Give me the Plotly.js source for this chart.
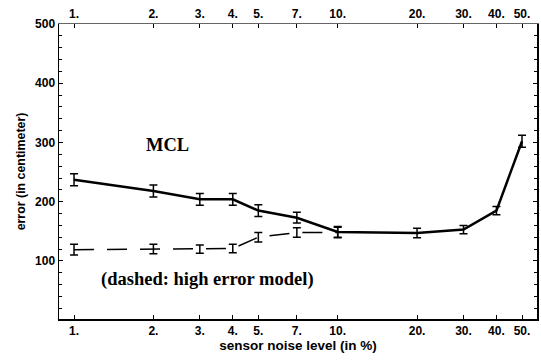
<!DOCTYPE html>
<html>
<head>
<meta charset="utf-8">
<script src="https://cdn.plot.ly/plotly-3.0.1.min.js"></script>
<style>html,body{margin:0;padding:0;background:#fff;}#chart{width:541px;height:360px;}</style>
</head>
<body>
<div id="chart"></div>
<script>
// Data
const noiseLevels = [1, 2, 3, 4, 5, 7, 10, 20, 30, 40, 50];
const mclError = [237, 218, 204, 204, 185, 173, 149, 147, 153, 185, 302];
const mclErrBar = [10, 10, 10, 10, 10, 9, 9, 8, 7, 7, 10];
const highNoise = [1, 2, 3, 4, 5, 7, 10];
const highError = [119, 120, 120, 121, 140, 148, 148];
const highErrBar = [9, 8, 7, 7, 8, 8, 9];
const tickVals = [1, 2, 3, 4, 5, 7, 10, 20, 30, 40, 50];
const tickText = ["1.", "2.", "3.", "4.", "5.", "7.", "10.", "20.", "30.", "40.", "50."];
const yTickVals = [100, 200, 300, 400, 500];

const xRange = [Math.log10(0.877), Math.log10(57.0)];
const yRange = [2, 500];
const tickFont = {family: "Liberation Sans, Arial, sans-serif", size: 12, color: "#000", weight: "bold"};

const traces = [
  {
    x: highNoise, y: highError, type: "scatter", mode: "lines",
    line: {color: "#000", width: 1.5, dash: "20px,13px"},
    error_y: {type: "data", array: highErrBar, visible: true, color: "#000", thickness: 1.5, width: 4},
    showlegend: false, hoverinfo: "skip"
  },
  {
    x: noiseLevels, y: mclError, type: "scatter", mode: "lines",
    line: {color: "#000", width: 2.5},
    error_y: {type: "data", array: mclErrBar, visible: true, color: "#000", thickness: 1.5, width: 4},
    showlegend: false, hoverinfo: "skip"
  },
  {
    x: noiseLevels, y: mclError, xaxis: "x2", type: "scatter", mode: "none",
    showlegend: false, hoverinfo: "skip"
  }
];

const layout = {
  width: 541, height: 360,
  margin: {l: 59, r: 4, t: 24, b: 41},
  paper_bgcolor: "#fff", plot_bgcolor: "#fff",
  showlegend: false,
  xaxis: {
    type: "log", range: xRange, tickvals: tickVals, ticktext: tickText,
    ticks: "inside", ticklen: 4, tickcolor: "#000", tickwidth: 1,
    showline: true, linecolor: "#000", linewidth: 1.5, mirror: false,
    showgrid: false, zeroline: false, tickfont: tickFont,
    title: {text: "sensor noise level (in %)", font: {family: "Liberation Sans, Arial, sans-serif", size: 13.5, color: "#000", weight: "bold"}, standoff: 3}
  },
  xaxis2: {
    type: "log", range: xRange, tickvals: tickVals, ticktext: tickText,
    overlaying: "x", side: "top", anchor: "y",
    ticks: "inside", ticklen: 4, tickcolor: "#000", tickwidth: 1,
    showline: true, linecolor: "#666", linewidth: 1.5,
    showgrid: false, zeroline: false, tickfont: tickFont
  },
  yaxis: {
    range: yRange, tickvals: yTickVals,
    ticks: "inside", ticklen: 4, tickcolor: "#000", tickwidth: 1,
    minor: {dtick: 20, tick0: 0, ticks: "inside", ticklen: 3, tickcolor: "#000", showgrid: false},
    showline: true, linecolor: "#000", linewidth: 1.5, mirror: "ticks",
    showgrid: false, zeroline: false, tickfont: tickFont,
    title: {text: "error (in centimeter)", font: {family: "Liberation Sans, Arial, sans-serif", size: 12.4, color: "#000", weight: "bold"}, standoff: 6}
  },
  annotations: [
    {x: Math.log10(2.27), y: 296, xref: "x", yref: "y", text: "<b>MCL</b>", showarrow: false,
     font: {family: "Liberation Serif, Times New Roman, serif", size: 18.5, color: "#000"}},
    {x: Math.log10(3.22), y: 69, xref: "x", yref: "y", text: "<b>(dashed: high error model)</b>", showarrow: false,
     font: {family: "Liberation Serif, Times New Roman, serif", size: 18.5, color: "#000"}}
  ]
};

Plotly.newPlot("chart", traces, layout, {staticPlot: true, displayModeBar: false});
</script>
</body>
</html>
